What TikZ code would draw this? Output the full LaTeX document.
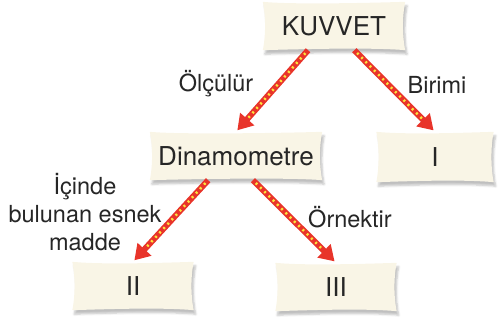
\documentclass[tikz,border=0pt]{standalone}
\usepackage{fontspec}
\setmainfont{TeX Gyre Heros}
\usetikzlibrary{arrows.meta,calc,shadows.blur,backgrounds}

\definecolor{paper}{RGB}{249,245,230}
\definecolor{arrowred}{RGB}{232,52,42}
\definecolor{arrowyellow}{RGB}{252,228,60}

\tikzset{
  box/.style={minimum width=121pt, minimum height=48pt, inner sep=0pt,
    font=\fontsize{26}{30}\selectfont, text=black!85},
  lbl/.style={font=\fontsize{23.5}{28}\selectfont, text=black!85, align=center},
  redarrow/.style={draw=arrowred, line width=6pt,
    -{Triangle[width=18pt,length=15pt]}, shorten >=2pt,
    postaction={draw=arrowyellow, line width=2.5pt, dash pattern=on 2pt off 4pt,
      shorten >=18pt, shorten <=4pt, -}},
  paperfill/.style={fill=paper, blur shadow={shadow xshift=2pt, shadow yshift=-4pt,
      shadow opacity=25, shadow blur steps=5}}
}

% wavy paper outline round a node
\newcommand{\scrollpath}[1]{%
  (#1.north west) .. controls ($(#1.north west)+(30,3)$) and ($(#1.north east)+(-30,1)$) .. (#1.north east)
  .. controls ($(#1.north east)+(-3,15)$) and ($(#1.south east)+(-3,-15)$) .. (#1.south east)
  .. controls ($(#1.south east)+(-30,-3)$) and ($(#1.south west)+(30,-1)$) .. (#1.south west)
  .. controls ($(#1.south west)+(3,-15)$) and ($(#1.north west)+(3,15)$) .. cycle}

\begin{document}
\begin{tikzpicture}[x=1pt,y=-1pt]
  \useasboundingbox (0,0) rectangle (499,327);

  \node[box, minimum width=142pt] (kuvvet) at (334,26) {KUVVET};
  \node[box, minimum width=172pt] (dina) at (236,156) {Dinamometre};
  \node[box, minimum width=117pt, minimum height=50pt] (birim) at (435,157) {I};
  \node[box] (ii) at (133,286) {II};
  \node[box] (iii) at (336,287) {III};

  \begin{scope}[on background layer]
    \foreach \n in {kuvvet,dina,birim,ii,iii}
      \fill[paperfill] \scrollpath{\n};
  \end{scope}

  \draw[redarrow] (kuvvet.223) -- (dina.north);
  \draw[redarrow] (kuvvet.310) -- (birim.north);
  \draw[redarrow] (dina.221) -- (ii.north);
  \draw[redarrow] (dina.305) -- (iii.north);

  \node[lbl] (olculur) at (216,84) {Ölçülür};
  \node[lbl] (birimi) at (437,85) {Birimi};
  \node[lbl] (icinde) at (85,212) {İçinde\\bulunan esnek\\madde};
  \node[lbl] (ornektir) at (350,217) {Örnektir};
\end{tikzpicture}
\end{document}
